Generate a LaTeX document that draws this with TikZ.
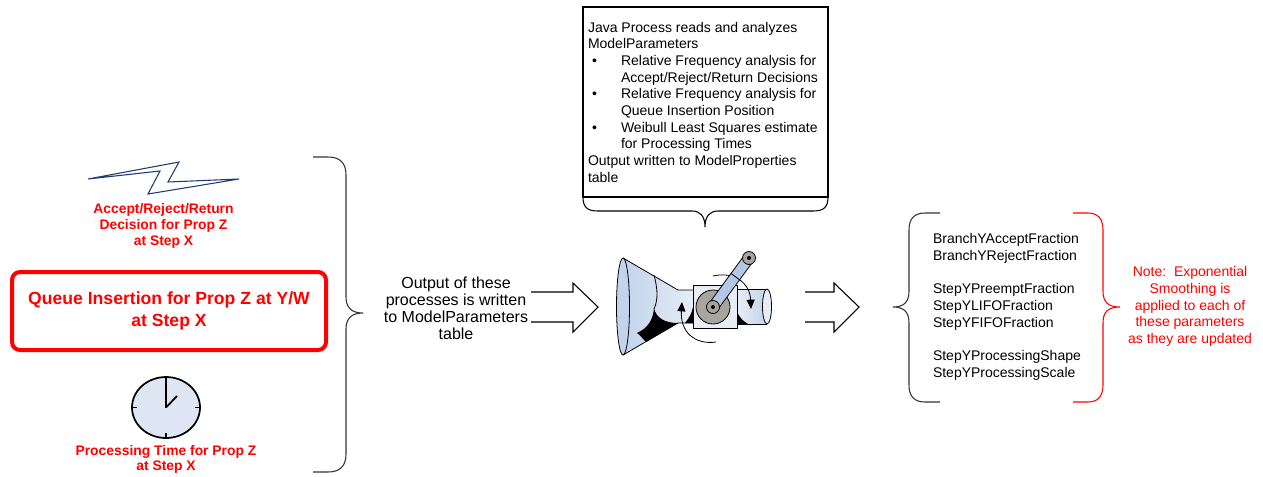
\documentclass[tikz,border=0pt]{standalone}
\usepackage{fontspec}
\setmainfont{Liberation Sans}
\usetikzlibrary{arrows.meta,shapes.geometric,calc}
\definecolor{alertred}{HTML}{FF0000}
\definecolor{boltblue}{HTML}{1F3B73}
\definecolor{clockface}{HTML}{DFE6F3}
\definecolor{steel}{HTML}{C3D3EB}
\definecolor{steellight}{HTML}{E6EDF7}
\definecolor{armblue}{HTML}{B4C7E7}
\definecolor{wheelgray}{HTML}{A8A59F}
\definecolor{bracegray}{HTML}{333333}

\begin{document}
\begin{tikzpicture}[x=0.75pt,y=-0.75pt,
  every node/.style={inner sep=0pt, outer sep=0pt},
  redlabel/.style={text=alertred, font=\fontsize{10.4}{12}\selectfont\bfseries, align=center},
  qbox/.style={draw=alertred, line width=3pt, rounded corners=6pt, text=alertred,
    font=\fontsize{13.2}{17}\selectfont\bfseries, align=center,
    minimum width=235.5pt, minimum height=58.5pt},
  bodytext/.style={font=\fontsize{10.5}{12.5}\selectfont},
  bracepath/.style={line width=0.8pt},
  blockarrow/.style={draw=black, fill=white, line width=0.8pt, line join=miter},
]
\useasboundingbox (0,0) rectangle (1263,476);

% ---------- inputs on the left ----------
\draw[boltblue, fill=white, line width=0.8pt, line join=miter]
  (88,179) -- (179,162) -- (168,182) -- (239,179) -- (148,194) -- (160,171) -- cycle;
\node[redlabel] (decision) at (163.5,226) {Accept/Reject/Return\\Decision for Prop Z\\at Step X};

\node[qbox] (queue) at (169,311) {Queue Insertion for Prop Z at Y/W\\at Step X};

\node[ellipse, draw, line width=1.3pt, fill=clockface, minimum width=51pt, minimum height=45.75pt] (clock) at (166,407.5) {};
\draw[line width=1.3pt] (clock.center) -- (clock.north);
\draw[line width=1.3pt] (clock.center) -- (177,396);
\draw[line width=1.3pt] (clock.west) -- ++(5,0);
\draw[line width=1.3pt] (clock.east) -- ++(-5,0);
\draw[line width=1.3pt] (clock.south) -- ++(0,-5);
\node[redlabel, font=\fontsize{10.4}{11.3}\selectfont\bfseries] (ptime) at (166,459.5) {Processing Time for Prop Z\\at Step X};

% brace collecting the inputs
\coordinate (lbtop) at (313,157);
\coordinate (lbtip) at (363,313);
\coordinate (lbbot) at (313,472);
\draw[bracepath, bracegray] (lbtop) -- (328,157) .. controls (340,157) and (346,163) .. (346,175)
  -- (346,297) .. controls (346,308) and (352,313) .. (lbtip)
  .. controls (352,313) and (346,318) .. (346,329)
  -- (346,454) .. controls (346,466) and (340,472) .. (328,472) -- (lbbot);

\node[font=\fontsize{12}{12.8}\selectfont, align=center] (output) at (456,308)
  {Output of these\\processes is written\\to ModelParameters\\table};

% ---------- block arrows ----------
\coordinate (a1s) at (531,307);
\coordinate (a1t) at (598,307);
\draw[blockarrow] ($(a1s)+(0,-15)$) -- (573,292) -- (573,283) -- (a1t) -- (573,332) -- (573,322) -- ($(a1s)+(0,15)$);
\coordinate (a2s) at (805,307);
\coordinate (a2t) at (859,307);
\draw[blockarrow] ($(a2s)+(0,-15)$) -- (834,292) -- (834,283) -- (a2t) -- (834,332) -- (834,322) -- ($(a2s)+(0,15)$);

% ---------- analysis callout ----------
\node[draw, line width=0.8pt, minimum width=183.75pt, minimum height=142.5pt] (procbox) at (705.5,102) {};
\node[bodytext, align=left, anchor=west] (proctext) at (588,102) {%
Java Process reads and analyzes\\
ModelParameters\\
\hspace*{3pt}\makebox[21.75pt][l]{\textbullet}Relative Frequency analysis for\\
\hspace*{24.75pt}Accept/Reject/Return Decisions\\
\hspace*{3pt}\makebox[21.75pt][l]{\textbullet}Relative Frequency analysis for\\
\hspace*{24.75pt}Queue Insertion Position\\
\hspace*{3pt}\makebox[21.75pt][l]{\textbullet}Weibull Least Squares estimate\\
\hspace*{24.75pt}for Processing Times\\
Output written to ModelProperties\\
table};
\coordinate (cbtip) at (705,227);
\draw[bracepath] (procbox.south west) .. controls (583,207) and (587,211) .. (598,211)
  -- (692,211) .. controls (700,211) and (705,216) .. (cbtip)
  .. controls (705,216) and (710,211) .. (718,211)
  -- (813,211) .. controls (824,211) and (828,207) .. (procbox.south east);

% ---------- processing machine ----------
\begin{scope}[line width=0.6pt, line join=round]
  % funnel
  \path[left color=steel, right color=steellight]
    (623,258) -- (678,290) -- (693,290) -- (693,323) -- (678,323) -- (623,355) -- cycle;
  \draw (623,258) -- (678,290) -- (693,290);
  \draw (623,355) -- (678,323) -- (693,323);
  \draw (654,275) .. controls (658,290) and (658,300) .. (654,309);
  \fill[black] (637,333) .. controls (648,328) and (653,320) .. (654,308)
    .. controls (656,318) and (665,323) .. (678,323) -- (646,342)
    .. controls (642,338) and (640,335) .. (637,333) -- cycle;
  \fill[black] (685,323) .. controls (689,318) and (692,313) .. (693,307) -- (693,323) -- cycle;
  \draw[fill=steel] (623,306.5) ellipse (6.5 and 48.5);
  % right pipe
  \path[left color=steellight, right color=steel] (737,289) rectangle (767,324);
  \draw (737,289) -- (767,289);
  \draw (737,324) -- (767,324);
  \fill[black] (737,312) .. controls (740,318) and (743,321) .. (748,324) -- (737,324) -- cycle;
  \draw[fill=steellight] (767,306.5) ellipse (4.5 and 17.5);
  % housing
  \draw[fill=steellight] (693,285) rectangle (737,328);
  % rotation arrows
  \draw[-{Triangle[length=7pt,width=6pt]}] (713,276) .. controls (734,271) and (750,283) .. (751,309);
  \draw[-{Triangle[length=7pt,width=6pt]}] (716,342) .. controls (695,345) and (680,332) .. (682,302);
  % wheel and crank
  \draw[fill=wheelgray] (713,307) circle (17);
  \draw[line width=8.6pt, line cap=round] (713,307) -- (749,258);
  \draw[line width=7.2pt, line cap=round, armblue] (713,307) -- (749,258);
  \draw ($(713,307)!0.62!(749,258)+(-4.4,-3.3)$) -- ($(713,307)!0.62!(749,258)+(4.4,3.3)$);
  \draw[fill=wheelgray] (713,307) circle (6.5);
  \fill (713,307) circle (2);
  \draw[fill=wheelgray] (749,258) circle (6.5);
  \fill (749,258) circle (2);
\end{scope}

% ---------- resulting parameters ----------
\coordinate (rbtop) at (940,213);
\coordinate (rbtip) at (893,307);
\coordinate (rbbot) at (940,402);
\draw[bracepath, bracegray] (rbtop) -- (925,213) .. controls (914,213) and (909,219) .. (909,230)
  -- (909,291) .. controls (909,302) and (904,307) .. (rbtip)
  .. controls (904,307) and (909,312) .. (909,323)
  -- (909,385) .. controls (909,396) and (914,402) .. (925,402) -- (rbbot);

\node[bodytext, align=left, anchor=west] (params) at (933,307) {%
BranchYAcceptFraction\\
BranchYRejectFraction\\[12.5pt]
StepYPreemptFraction\\
StepYLIFOFraction\\
StepYFIFOFraction\\[12.5pt]
StepYProcessingShape\\
StepYProcessingScale};

\coordinate (nbtop) at (1073,213);
\coordinate (nbtip) at (1120,307);
\coordinate (nbbot) at (1073,402);
\draw[bracepath, alertred] (nbtop) -- (1088,213) .. controls (1098,213) and (1103,219) .. (1103,230)
  -- (1103,291) .. controls (1103,302) and (1108,307) .. (nbtip)
  .. controls (1108,307) and (1103,312) .. (1103,323)
  -- (1103,385) .. controls (1103,396) and (1098,402) .. (1088,402) -- (nbbot);

\node[bodytext, align=center, text=alertred] (note) at (1190,306.5)
  {Note:\ \ Exponential\\Smoothing is\\applied to each of\\these parameters\\as they are updated};
\end{tikzpicture}
\end{document}
